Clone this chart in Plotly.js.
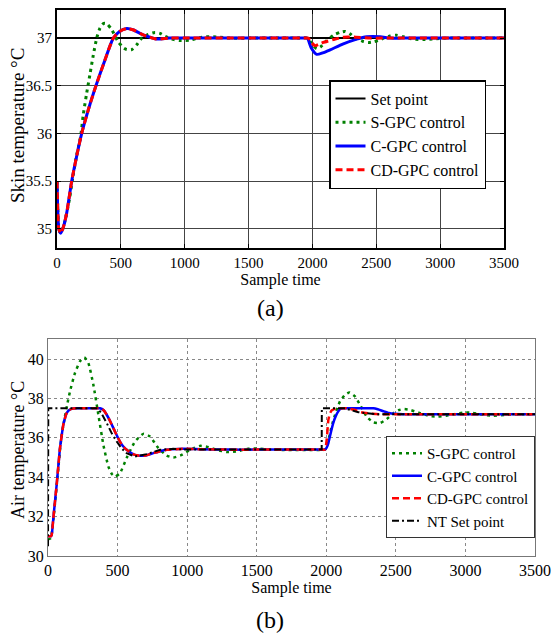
<!DOCTYPE html>
<html>
<head>
<meta charset="utf-8">
<script src="https://cdn.plot.ly/plotly-3.0.1.min.js"></script>
<style>html,body{margin:0;padding:0;background:#fff}#chart{width:552px;height:634px}</style>
</head>
<body>
<div id="chart"></div>
<script>
// ---------- (a) Skin temperature ----------
const xTicks = [0, 500, 1000, 1500, 2000, 2500, 3000, 3500];
const yTicksA = [35, 35.5, 36, 36.5, 37];
const yTicksB = [30, 32, 34, 36, 38, 40];

const tSetA = [0, 3500];
const vSetA = [37, 37];

const tSA = [0, 6, 14, 29, 50, 75, 100, 125, 155, 185, 206, 232, 258, 284, 311, 335, 355, 375, 394, 428, 480, 520, 546, 585, 624, 663, 715, 767, 806, 846, 900, 960, 1040, 1100, 1170, 1250, 1350, 1500, 1700, 1900, 1960, 2000, 2034, 2065, 2110, 2164, 2216, 2255, 2294, 2330, 2398, 2438, 2477, 2516, 2560, 2608, 2660, 2712, 2790, 2868, 2940, 3050, 3200, 3350, 3500];
const vSA = [35.5, 35.2, 35.0, 34.955, 35.02, 35.16, 35.33, 35.55, 35.78, 35.97, 36.2, 36.42, 36.62, 36.82, 37.0, 37.1, 37.145, 37.155, 37.145, 37.09, 36.96, 36.9, 36.88, 36.88, 36.93, 37.0, 37.04, 37.06, 37.05, 37.02, 36.99, 36.975, 36.978, 37.0, 37.015, 37.012, 37.0, 37.0, 37.0, 37.0, 37.0, 36.93, 36.89, 36.91, 36.97, 37.03, 37.06, 37.07, 37.045, 37.005, 36.965, 36.955, 36.962, 36.975, 37.0, 37.022, 37.03, 37.015, 36.99, 36.985, 36.99, 37.0, 37.0, 37.0, 37.0];

const tCA = [0, 6, 14, 29, 50, 75, 115, 155, 193, 250, 305, 370, 441, 490, 546, 600, 650, 702, 780, 880, 1000, 1200, 1400, 1600, 1800, 1930, 1960, 1990, 2034, 2080, 2138, 2242, 2347, 2425, 2530, 2608, 2700, 2900, 3100, 3300, 3500];
const vCA = [35.5, 35.2, 35.0, 34.955, 35.02, 35.16, 35.5, 35.77, 36.0, 36.27, 36.5, 36.75, 37.0, 37.07, 37.1, 37.085, 37.05, 37.02, 36.99, 37.0, 37.0, 37.0, 37.0, 37.0, 37.0, 37.0, 37.0, 36.9, 36.83, 36.845, 36.877, 36.94, 36.99, 37.015, 37.015, 37.0, 37.0, 37.0, 37.0, 37.0, 37.0];

const tCDA = [0, 6, 14, 29, 50, 75, 115, 155, 193, 250, 305, 370, 441, 490, 546, 600, 650, 702, 780, 880, 1000, 1200, 1400, 1600, 1800, 1940, 1967, 1995, 2020, 2050, 2085, 2164, 2242, 2340, 2451, 2550, 2700, 2900, 3100, 3300, 3500];
const vCDA = [35.5, 35.2, 35.0, 34.955, 35.02, 35.16, 35.5, 35.77, 36.0, 36.27, 36.5, 36.75, 37.0, 37.07, 37.1, 37.085, 37.05, 37.02, 36.99, 37.0, 37.0, 37.0, 37.0, 37.0, 37.0, 37.0, 37.0, 36.95, 36.92, 36.935, 36.955, 36.985, 37.01, 37.01, 37.0, 37.0, 37.0, 37.0, 37.0, 37.0, 37.0];

// ---------- (b) Air temperature ----------
const tNT = [0, 2, 350, 380, 422, 460, 494, 530, 565, 625, 709, 805, 900, 1000, 1967, 1968, 2130, 2180, 2230, 2290, 2350, 3500];
const vNT = [30.5, 37.5, 37.5, 37.3, 36.75, 36.2, 35.81, 35.45, 35.22, 35.05, 35.17, 35.39, 35.44, 35.4, 35.4, 37.5, 37.5, 37.4, 37.3, 37.25, 37.2, 37.2];

const tSB = [0, 20, 30, 40, 52, 64, 76, 88, 100, 122, 140, 158, 194, 230, 261, 290, 326, 362, 398, 434, 460, 482, 517, 565, 625, 685, 733, 793, 853, 901, 961, 1021, 1092, 1140, 1212, 1284, 1350, 1440, 1520, 1600, 1700, 1800, 1900, 1975, 1991, 2005, 2027, 2045, 2063, 2081, 2099, 2135, 2166, 2206, 2242, 2290, 2338, 2386, 2434, 2482, 2520, 2553, 2602, 2674, 2745, 2800, 2860, 2913, 2990, 3050, 3120, 3200, 3280, 3350, 3420, 3500];
const vSB = [30.85, 30.9, 31.3, 31.95, 32.8, 33.7, 34.6, 35.5, 36.2, 37.1, 37.75, 38.35, 39.29, 39.88, 40.08, 39.8, 38.69, 37.17, 35.64, 34.54, 34.15, 34.03, 34.2, 34.97, 35.81, 36.2, 36.07, 35.48, 35.1, 35.0, 35.13, 35.39, 35.59, 35.55, 35.39, 35.28, 35.3, 35.45, 35.45, 35.4, 35.38, 35.38, 35.38, 35.38, 35.4, 35.6, 36.24, 36.75, 37.17, 37.55, 37.85, 38.18, 38.3, 38.1, 37.68, 37.08, 36.78, 36.75, 36.95, 37.25, 37.4, 37.46, 37.42, 37.25, 37.1, 37.08, 37.12, 37.19, 37.29, 37.27, 37.18, 37.12, 37.16, 37.2, 37.2, 37.2];

const tCB = [0, 20, 26, 38, 50, 62, 74, 86, 98, 110, 122, 134, 150, 170, 206, 260, 320, 374, 400, 422, 446, 470, 494, 517, 540, 565, 595, 625, 660, 700, 757, 805, 853, 973, 1100, 1300, 1500, 1700, 1900, 1975, 1991, 2003, 2015, 2032, 2050, 2068, 2086, 2100, 2120, 2180, 2260, 2338, 2370, 2410, 2450, 2494, 2550, 2700, 2900, 3100, 3300, 3500];
const vCB = [31.0, 31.0, 31.05, 31.9, 32.75, 33.6, 34.55, 35.47, 36.1, 36.66, 37.0, 37.25, 37.4, 37.47, 37.5, 37.5, 37.5, 37.5, 37.4, 37.17, 36.85, 36.49, 36.13, 35.81, 35.57, 35.39, 35.24, 35.13, 35.09, 35.1, 35.22, 35.32, 35.39, 35.44, 35.42, 35.4, 35.4, 35.4, 35.4, 35.4, 35.4, 35.5, 35.73, 36.25, 36.75, 37.1, 37.34, 37.46, 37.5, 37.5, 37.5, 37.5, 37.45, 37.35, 37.26, 37.22, 37.2, 37.2, 37.2, 37.2, 37.2, 37.2];

const tCDB = [0, 20, 26, 38, 50, 62, 74, 86, 98, 110, 122, 134, 150, 170, 206, 260, 320, 374, 400, 422, 446, 470, 494, 517, 540, 565, 595, 625, 660, 700, 757, 805, 853, 973, 1100, 1300, 1500, 1700, 1900, 1975, 1991, 2003, 2015, 2027, 2039, 2060, 2080, 2147, 2200, 2250, 2300, 2380, 2500, 2700, 2900, 3100, 3300, 3500];
const vCDB = [31.0, 31.0, 31.05, 31.9, 32.75, 33.6, 34.55, 35.47, 36.1, 36.66, 37.0, 37.25, 37.4, 37.47, 37.5, 37.5, 37.5, 37.5, 37.4, 37.17, 36.85, 36.49, 36.13, 35.81, 35.57, 35.39, 35.24, 35.13, 35.09, 35.1, 35.22, 35.32, 35.39, 35.44, 35.42, 35.4, 35.4, 35.4, 35.4, 35.4, 35.4, 35.9, 36.91, 37.25, 37.39, 37.47, 37.5, 37.5, 37.42, 37.3, 37.24, 37.2, 37.2, 37.2, 37.2, 37.2, 37.2, 37.2];

const names = {set: 'Set point', s: 'S-GPC control', c: 'C-GPC control', cd: 'CD-GPC control', nt: 'NT Set point'};
const yTitleA = 'Skin temperature °C';
const yTitleB = 'Air temperature °C';
const xTitle = 'Sample time';

const W = 552, H = 634;
const FONT = 'Liberation Serif';
const GREEN = '#008000', BLUE = '#0000ff', RED = '#ff0000';

const traces = [
  {x: tSetA, y: vSetA, name: names.set, mode: 'lines', line: {color: '#000', width: 2}, xaxis: 'x', yaxis: 'y', legend: 'legend'},
  {x: tSA, y: vSA, name: names.s, mode: 'lines', line: {color: GREEN, width: 3, dash: '3px,4px', shape: 'spline', smoothing: 0.6}, xaxis: 'x', yaxis: 'y', legend: 'legend'},
  {x: tCA, y: vCA, name: names.c, mode: 'lines', line: {color: BLUE, width: 3, shape: 'spline', smoothing: 0.6}, xaxis: 'x', yaxis: 'y', legend: 'legend'},
  {x: tCDA, y: vCDA, name: names.cd, mode: 'lines', line: {color: RED, width: 3, dash: '7px,4px', shape: 'spline', smoothing: 0.6}, xaxis: 'x', yaxis: 'y', legend: 'legend'},

  {x: tSB, y: vSB, name: names.s, mode: 'lines', line: {color: GREEN, width: 2.5, dash: '3px,4px', shape: 'spline', smoothing: 0.5}, xaxis: 'x2', yaxis: 'y2', legend: 'legend2'},
  {x: tCB, y: vCB, name: names.c, mode: 'lines', line: {color: BLUE, width: 2.5, shape: 'spline', smoothing: 0.5}, xaxis: 'x2', yaxis: 'y2', legend: 'legend2'},
  {x: tCDB, y: vCDB, name: names.cd, mode: 'lines', line: {color: RED, width: 2.5, dash: '7px,4px', shape: 'spline', smoothing: 0.5}, xaxis: 'x2', yaxis: 'y2', legend: 'legend2'},
  {x: tNT, y: vNT, name: names.nt, mode: 'lines', line: {color: '#000', width: 2, dash: '7px,3px,2px,3px'}, xaxis: 'x2', yaxis: 'y2', legend: 'legend2'}
];

const axFont = {family: FONT, size: 15, color: '#000'};
const layout = {
  width: W, height: H,
  margin: {l: 0, r: 0, t: 0, b: 0},
  paper_bgcolor: '#fff', plot_bgcolor: '#fff',
  font: {family: FONT, color: '#000'},
  showlegend: true,
  xaxis: {
    domain: [57 / W, 504 / W], anchor: 'y', range: [0, 3500], tickvals: xTicks, ticktext: xTicks.map(String),
    showgrid: true, gridcolor: '#444', gridwidth: 1, zeroline: false,
    showline: true, linecolor: '#000', linewidth: 2, mirror: 'ticks', ticks: 'inside', ticklen: 4, tickcolor: '#000',
    tickfont: axFont, title: {text: xTitle, font: {family: FONT, size: 16}, standoff: 2}
  },
  yaxis: {
    domain: [1 - 248 / H, 1 - 9.5 / H], anchor: 'x', range: [34.8, 37.3], tickvals: yTicksA, ticktext: yTicksA.map(String),
    showgrid: true, gridcolor: '#444', gridwidth: 1, zeroline: false,
    showline: true, linecolor: '#000', linewidth: 2, mirror: 'ticks', ticks: 'inside', ticklen: 4, tickcolor: '#000',
    tickfont: axFont
  },
  xaxis2: {
    domain: [48 / W, 535 / W], anchor: 'y2', range: [0, 3500], tickvals: xTicks, ticktext: xTicks.map(String),
    showgrid: true, gridcolor: '#888', gridwidth: 1, griddash: 'dot', zeroline: false,
    showline: true, linecolor: '#777', linewidth: 1, mirror: true, ticks: '',
    tickfont: {family: FONT, size: 16, color: '#000'}, title: {text: xTitle, font: {family: FONT, size: 16}, standoff: 0}
  },
  yaxis2: {
    domain: [1 - 556 / H, 1 - 339.3 / H], anchor: 'x2', range: [30, 41], tickvals: yTicksB, ticktext: yTicksB.map(String),
    showgrid: true, gridcolor: '#888', gridwidth: 1, griddash: 'dot', zeroline: false,
    showline: true, linecolor: '#777', linewidth: 1, mirror: true, ticks: '',
    tickfont: {family: FONT, size: 16, color: '#000'}
  },
  legend: {
    x: 486 / W, xanchor: 'right', y: 1 - 80 / H, yanchor: 'top', xref: 'paper', yref: 'paper',
    bgcolor: '#fff', bordercolor: '#000', borderwidth: 1.5, font: {family: FONT, size: 16, color: '#000'},
    itemwidth: 30, tracegroupgap: 0
  },
  legend2: {
    x: 535 / W, xanchor: 'right', y: 1 - 436 / H, yanchor: 'top', xref: 'paper', yref: 'paper',
    bgcolor: '#fff', bordercolor: '#333', borderwidth: 1, font: {family: FONT, size: 15, color: '#000'},
    itemwidth: 30, tracegroupgap: 0
  },
  annotations: [
    {text: yTitleA, x: 18 / W, y: 1 - 126 / H, xref: 'paper', yref: 'paper', showarrow: false, textangle: -90, xanchor: 'center', yanchor: 'middle', font: {family: FONT, size: 19, color: '#000'}},
    {text: yTitleB, x: 18 / W, y: 1 - 450 / H, xref: 'paper', yref: 'paper', showarrow: false, textangle: -90, xanchor: 'center', yanchor: 'middle', font: {family: FONT, size: 18, color: '#000'}},
    {text: '(a)', x: 270 / W, y: 1 - 308 / H, xref: 'paper', yref: 'paper', showarrow: false, xanchor: 'center', yanchor: 'middle', font: {family: FONT, size: 24, color: '#000'}},
    {text: '(b)', x: 270 / W, y: 1 - 620 / H, xref: 'paper', yref: 'paper', showarrow: false, xanchor: 'center', yanchor: 'middle', font: {family: FONT, size: 24, color: '#000'}}
  ]
};

Plotly.newPlot('chart', traces, layout, {displayModeBar: false, staticPlot: true});
</script>
</body>
</html>
